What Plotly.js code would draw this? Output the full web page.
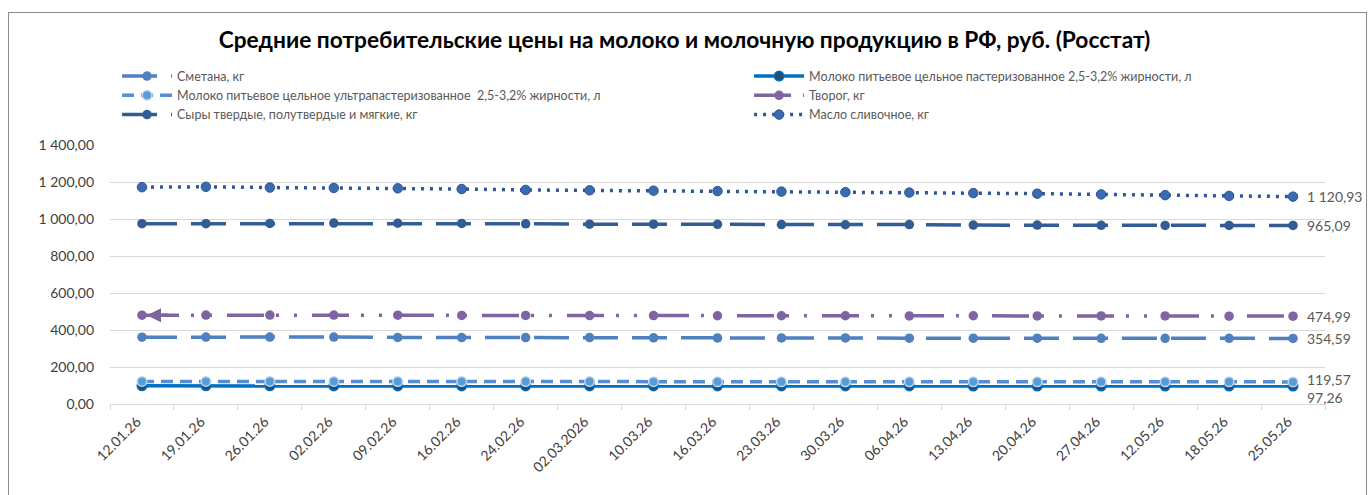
<!DOCTYPE html>
<html>
<head>
<meta charset="utf-8">
<script src="https://cdn.plot.ly/plotly-3.0.1.min.js"></script>
<style>
  html, body { margin: 0; padding: 0; background: #ffffff; }
  #wrap { position: relative; width: 1369px; height: 495px; overflow: hidden; }
  #chart { width: 1369px; height: 495px; }
  #frame { position: absolute; left: 8px; top: 12px; width: 1359px; height: 520px;
           border: 1.5px solid #8c8c8c; box-sizing: border-box; pointer-events: none; }
</style>
</head>
<body>
<div id="wrap">
  <div id="chart"></div>
  <div id="frame"></div>
</div>
<script>
// ---- data ----
const dates = ["12.01.26","19.01.26","26.01.26","02.02.26","09.02.26","16.02.26","24.02.26","02.03.2026",
  "10.03.26","16.03.26","23.03.26","30.03.26","06.04.26","13.04.26","20.04.26","27.04.26","12.05.26","18.05.26","25.05.26"];

const seriesNames = [
  "Сметана, кг",
  "Молоко питьевое цельное пастеризованное 2,5-3,2% жирности, л",
  "Молоко питьевое цельное ультрапастеризованное  2,5-3,2% жирности, л",
  "Творог, кг",
  "Сыры твердые, полутвердые и мягкие, кг",
  "Масло сливочное, кг"
];

const smetana = [361, 362, 362, 362, 360, 359, 359, 359, 358, 357, 357, 357, 356, 356, 356, 355, 355, 355, 354.59];
const milkPast = [98.0, 98.0, 98.0, 97.9, 97.8, 97.7, 97.6, 97.6, 97.5, 97.5, 97.4, 97.4, 97.4, 97.3, 97.3, 97.3, 97.3, 97.3, 97.26];
const milkUltra = [122, 122, 122, 122, 121, 121, 121, 121, 120.5, 120.3, 120.2, 120.1, 120, 120, 120, 119.9, 119.8, 119.7, 119.57];
const tvorog = [480, 481, 481, 481, 480, 479, 479, 478, 478, 477, 477, 477, 476, 477, 476, 476, 476, 475, 474.99];
const syry = [975, 975, 976, 978, 977, 976, 974, 972, 972, 971, 970, 969, 970, 967, 967, 966, 965, 965, 965.09];
const maslo = [1172, 1174, 1170, 1168, 1166, 1162, 1157, 1155, 1153, 1151, 1148, 1145, 1143, 1140, 1137, 1133, 1129, 1125, 1120.93];

const chartTitle = "Средние потребительские цены на молоко и молочную продукцию в РФ, руб. (Росстат)";

// ---- helpers ----
function fmt(v) {
  const s = v.toFixed(2).split(".");
  const int = s[0].replace(/\B(?=(\d{3})+(?!\d))/g, " ");
  return int + "," + s[1];
}

const FONT = "Lato, 'Open Sans', sans-serif";

const styles = [
  { color: "#4F81C2", dash: "35px,14px", width: 3.5, marker: { color: "#4F81C2", size: 9.5, symbol: "circle" } },
  { color: "#0070C0", dash: "solid", width: 3.5, marker: { color: "#1F4E79", size: 9.5, symbol: "circle", line: { color: "#0070C0", width: 1.5 } } },
  { color: "#558ED5", dash: "12px,7px", width: 3.5, marker: { color: "#5B9BD5", size: 9.5, symbol: "circle", line: { color: "#BDD7EE", width: 1.5 } } },
  { color: "#8064A2", dash: "37px,12px,3px,15px,3px,15px", width: 3.5, marker: { color: "#8064A2", size: 9.5, symbol: "circle" } },
  { color: "#335C94", dash: "35px,14px", width: 3.5, marker: { color: "#335C94", size: 9.5, symbol: "circle" } },
  { color: "#2F5597", dash: "3px,6px", width: 3.5, marker: { color: "#3A6BB0", size: 9.5, symbol: "circle", line: { color: "#2F5597", width: 1 } } }
];
const legendOf = ["legend", "legend2", "legend", "legend2", "legend", "legend2"];

const allSeries = [smetana, milkPast, milkUltra, tvorog, syry, maslo];

const traces = allSeries.map((vals, i) => ({
  type: "scatter",
  mode: "lines+markers",
  name: seriesNames[i],
  legend: legendOf[i],
  x: dates,
  y: vals,
  line: { color: styles[i].color, dash: styles[i].dash, width: styles[i].width },
  marker: styles[i].marker,
  hoverinfo: "x+y+name"
}));

const last = dates.length - 1;
const labelYShift = [0, -11, 2, 0, 0, 0];
const annotations = allSeries.map((vals, i) => ({
  x: dates[last], y: vals[last], xref: "x", yref: "y",
  text: fmt(vals[last]), showarrow: false,
  xanchor: "left", yanchor: "middle", xshift: 12, yshift: labelYShift[i],
  font: { family: FONT, size: 14, color: "#595959" }
}));

// arrow at the start of the "Творог" line
annotations.push({
  x: dates[0], y: tvorog[0], xref: "x", yref: "y",
  ax: 28, ay: 0, axref: "pixel", ayref: "pixel",
  showarrow: true, arrowhead: 2, arrowsize: 0.8, arrowwidth: 3.5, arrowcolor: "#8064A2",
  standoff: 5, text: ""
});

const legendCommon = {
  orientation: "v", xanchor: "left", yanchor: "top", y: 1.3225,
  font: { family: FONT, size: 12.5, color: "#595959" },
  itemwidth: 50, tracegroupgap: 0, bgcolor: "rgba(0,0,0,0)"
};

const layout = {
  width: 1369, height: 495,
  paper_bgcolor: "#ffffff", plot_bgcolor: "#ffffff",
  separators: ", ",
  font: { family: FONT, size: 13, color: "#404040" },
  margin: { l: 110, r: 44, t: 145, b: 91, pad: 0 },
  title: {
    text: "<b>" + chartTitle + "</b>",
    font: { family: FONT, size: 22.7, color: "#000000" },
    x: 0.5, xanchor: "center", y: 1 - 40 / 495, yanchor: "middle"
  },
  showlegend: true,
  legend: Object.assign({}, legendCommon, { x: 0.0058 }),
  legend2: Object.assign({}, legendCommon, { x: 0.526 }),
  xaxis: {
    type: "category",
    range: [-0.5, dates.length - 0.5],
    tickangle: -45,
    showgrid: false,
    showline: true, linecolor: "#D9D9D9", linewidth: 1,
    ticks: "outside", tickson: "boundaries", ticklen: 5, tickcolor: "#D9D9D9",
    ticklabelshift: -5, ticklabelstandoff: 3,
    tickfont: { family: FONT, size: 14, color: "#404040" },
    zeroline: false, fixedrange: true
  },
  yaxis: {
    range: [0, 1400], dtick: 200, tick0: 0,
    tickformat: ",.2f",
    showgrid: true, gridcolor: "#D9D9D9", gridwidth: 1,
    showline: false, zeroline: false, ticks: "",
    ticklabelstandoff: 15,
    tickfont: { family: FONT, size: 14, color: "#404040" },
    fixedrange: true
  },
  annotations: annotations
};

Plotly.newPlot("chart", traces, layout, { displayModeBar: false, responsive: false });
</script>
</body>
</html>
